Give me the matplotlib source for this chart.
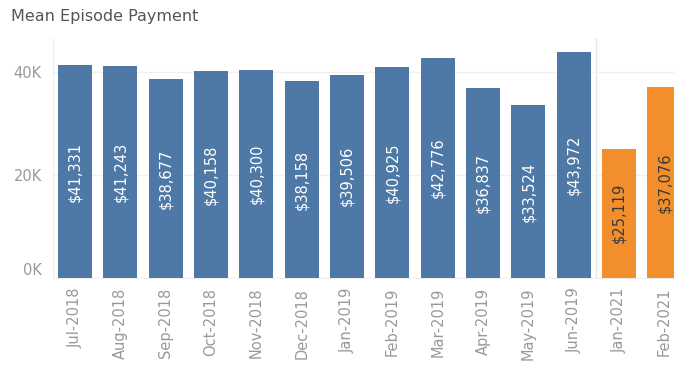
import matplotlib.pyplot as plt
import numpy as np

months = ['Jul-2018', 'Aug-2018', 'Sep-2018', 'Oct-2018', 'Nov-2018', 'Dec-2018',
          'Jan-2019', 'Feb-2019', 'Mar-2019', 'Apr-2019', 'May-2019', 'Jun-2019',
          'Jan-2021', 'Feb-2021']
payments = [41331, 41243, 38677, 40158, 40300, 38158, 39506, 40925, 42776,
            36837, 33524, 43972, 25119, 37076]
period = ['base'] * 12 + ['new'] * 2

blue = '#4e79a7'
orange = '#f28e2b'
grey = '#999999'

fig = plt.figure(figsize=(6.74, 3.71), dpi=100)
ax = fig.add_axes([0.0786, 0.2507, 0.9214, 0.6469])

x = np.arange(len(months))
colors = [blue if p == 'base' else orange for p in period]
ax.bar(x, payments, width=0.75, color=colors, zorder=3)

# value labels inside each bar
for xi, val, p in zip(x, payments, period):
    txt_color = 'white' if p == 'base' else '#3a3a3a'
    ax.text(xi, val / 2, f"${val:,}", rotation=90, ha='center', va='center',
            fontsize=10.5, color=txt_color, zorder=4)

ax.set_xlim(-0.485, 13.21)
ax.set_ylim(0, 46600)
ax.set_yticks([0, 20000, 40000])
ax.set_yticklabels(['0K', '20K', '40K'])
ax.set_xticks(x)
ax.set_xticklabels(months, rotation=90)
ax.tick_params(axis='both', length=0, labelsize=10.5, colors=grey)
ax.tick_params(axis='x', pad=7)
ax.tick_params(axis='y', pad=8)
# keep the zero label above the baseline
ax.get_yticklabels()[0].set_va('bottom')

ax.grid(axis='y', color='#f0f0f0', linewidth=1, zorder=0)
ax.axvline(11.5, color='#e6e6e6', linewidth=1, zorder=1)

for side in ['top', 'right']:
    ax.spines[side].set_visible(False)
ax.spines['left'].set_color('#eeeeee')
ax.spines['bottom'].set_color('#eeeeee')

fig.text(0.016, 0.955, 'Mean Episode Payment', fontsize=11.5, color='#555555',
         ha='left', va='center')

fig.savefig('out.png', dpi=100)
